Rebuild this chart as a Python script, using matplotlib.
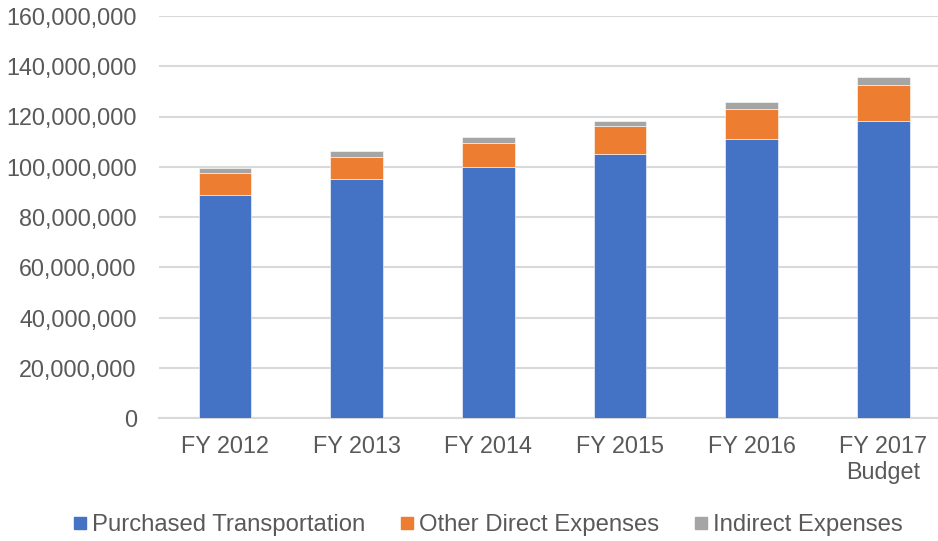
import matplotlib.pyplot as plt
from matplotlib.lines import Line2D
from matplotlib.ticker import FuncFormatter

plt.rcParams['font.family'] = ['Liberation Sans', 'DejaVu Sans']

# data
years = ['FY 2012', 'FY 2013', 'FY 2014', 'FY 2015', 'FY 2016', 'FY 2017\nBudget']
purchased = [88.6e6, 95.0e6, 99.8e6, 105.2e6, 110.9e6, 118.3e6]
other_direct = [9.0e6, 9.0e6, 9.5e6, 11.1e6, 12.1e6, 14.4e6]
indirect = [2.1e6, 2.3e6, 2.5e6, 2.0e6, 2.8e6, 3.1e6]
series_names = ['Purchased Transportation', 'Other Direct Expenses', 'Indirect Expenses']
colors = ['#4472C4', '#ED7D31', '#A5A5A5']

fig = plt.figure(figsize=(9.38, 5.41), dpi=100)
ax = fig.add_axes([159 / 938, 123 / 541, 790 / 938, 402 / 541])

x = list(range(len(years)))
bottom2 = [a + b for a, b in zip(purchased, other_direct)]
ax.bar(x, purchased, width=0.4, color=colors[0], edgecolor='white', linewidth=0.4, zorder=3)
ax.bar(x, other_direct, width=0.4, bottom=purchased, color=colors[1], edgecolor='white', linewidth=0.4, zorder=3)
ax.bar(x, indirect, width=0.4, bottom=bottom2, color=colors[2], edgecolor='white', linewidth=0.4, zorder=3)

ax.set_xlim(-0.5, 5.5)
ax.set_ylim(0, 160e6)
ax.set_yticks(range(0, 160000001, 20000000))
ax.yaxis.set_major_formatter(FuncFormatter(lambda v, p: f'{int(v):,}'))
ax.set_xticks(x)
ax.set_xticklabels(years)

ax.grid(axis='y', color='#D9D9D9', linewidth=1.5, zorder=0)
for s in ['top', 'right', 'left']:
    ax.spines[s].set_visible(False)
ax.spines['bottom'].set_color('#D9D9D9')
ax.spines['bottom'].set_linewidth(1.5)
ax.tick_params(axis='both', length=0, labelsize=16.8, labelcolor='#595959')
ax.tick_params(axis='y', pad=16)
ax.tick_params(axis='x', pad=12)

handles = [Line2D([], [], marker='s', linestyle='', markersize=8, color=c) for c in colors]
fig.legend(handles, series_names, loc='center', bbox_to_anchor=(488 / 938, 1 - 525 / 541),
           ncol=3, frameon=False, fontsize=17.2, labelcolor='#595959',
           handlelength=0.5, handletextpad=0.25, columnspacing=1.5)

fig.savefig('out.png', dpi=100)
